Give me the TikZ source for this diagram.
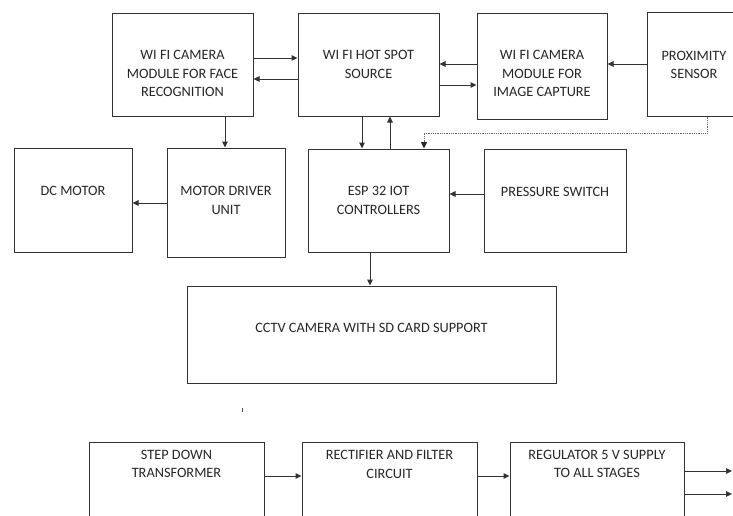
\documentclass[tikz,border=0pt]{standalone}
\usepackage{fontspec}
\setmainfont{Carlito}
\usetikzlibrary{arrows.meta}
\tikzset{
  box/.style={draw=black!80, line width=1pt, inner sep=0pt, fill=none},
  txt/.style={align=center, inner sep=0pt, text=black!85, font=\fontsize{14.3}{18.5}\selectfont},
  arr/.style={draw=black!80, line width=1pt, -{Triangle[length=6pt,width=5.5pt]}},
  dotarr/.style={draw=black!60, line width=0.8pt, densely dotted, -{Triangle[length=6.5pt,width=6pt,black!85]}}
}
\newcommand{\bx}[5]{\node[box, minimum width={#4-#2}, minimum height={#5-#3}] (#1) at ({(#2+#4)/2},{(#3+#5)/2}) {};}
\begin{document}
\begin{tikzpicture}[x=1pt,y=-1pt]
\useasboundingbox (0,0) rectangle (733,515);
% boxes
\bx{face}{112}{13}{253}{116}
\bx{hot}{298}{13}{439}{116}
\bx{img}{477}{13}{607}{119}
\bx{prox}{647}{12}{741}{116}
\bx{dc}{14}{148}{132}{252}
\bx{drv}{167}{148}{285}{257}
\bx{esp}{308}{149}{449}{252}
\bx{pres}{484}{149}{626}{252}
\bx{cctv}{187}{286}{556}{383}
\bx{step}{89}{442}{264}{530}
\bx{rect}{302}{442}{477}{530}
\bx{reg}{510}{442}{684}{530}
% texts
\node[txt] (tface) at (182.5,73.5) {WI FI CAMERA\\MODULE FOR FACE\\RECOGNITION};
\node[txt] (thot) at (368.5,64.5) {WI FI HOT SPOT\\SOURCE};
\node[txt] (timg) at (542,73.5) {WI FI CAMERA\\MODULE FOR\\IMAGE CAPTURE};
\node[txt] (tprox) at (694,65) {PROXIMITY\\SENSOR};
\node[txt] (tdc) at (73,191) {DC MOTOR};
\node[txt] (tdrv) at (226,200.5) {MOTOR DRIVER\\UNIT};
\node[txt] (tesp) at (378.5,200.5) {ESP 32 IOT\\CONTROLLERS};
\node[txt] (tpres) at (555,192) {PRESSURE SWITCH};
\node[txt] (tcctv) at (371.5,328) {CCTV CAMERA WITH SD CARD SUPPORT};
\node[txt] (tstep) at (176.5,464) {STEP DOWN\\TRANSFORMER};
\node[txt] (trect) at (389.5,464.5) {RECTIFIER AND FILTER\\CIRCUIT};
\node[txt] (treg) at (597,464) {REGULATOR 5 V SUPPLY\\TO ALL STAGES};
% connectors
\draw[arr] (face.east |- 0,58) -- (hot.west |- 0,58);
\draw[arr] (hot.west |- 0,79) -- (face.east |- 0,79);
\draw[arr] (img.west |- 0,64) -- (hot.east |- 0,64);
\draw[arr] (hot.east |- 0,85) -- (img.west |- 0,85);
\draw[arr] (prox.west |- 0,64) -- (img.east |- 0,64);
\draw[arr] (face.south -| 225,0) -- (drv.north -| 225,0);
\draw[arr] (hot.south -| 362,0) -- (esp.north -| 362,0);
\draw[arr] (esp.north -| 390,0) -- (hot.south -| 390,0);
\draw[dotarr] (prox.south -| 707,0) -- (707,133) -- (424,133) -- (esp.north -| 424,0);
\draw[arr] (drv.west |- 0,203) -- (dc.east |- 0,203);
\draw[arr] (pres.west |- 0,194) -- (esp.east |- 0,194);
\draw[arr] (esp.south -| 370,0) -- (cctv.north -| 370,0);
\draw[arr] (step.east |- 0,476) -- (rect.west |- 0,476);
\draw[arr] (rect.east |- 0,476) -- (reg.west |- 0,476);
\coordinate (out1) at (732,471);
\coordinate (out2) at (732,494);
\draw[arr] (reg.east |- out1) -- (out1);
\draw[arr] (reg.east |- out2) -- (out2);
% stray mark
\draw[black!70, line width=0.8pt] (242,408) -- (242,412);
\end{tikzpicture}
\end{document}
